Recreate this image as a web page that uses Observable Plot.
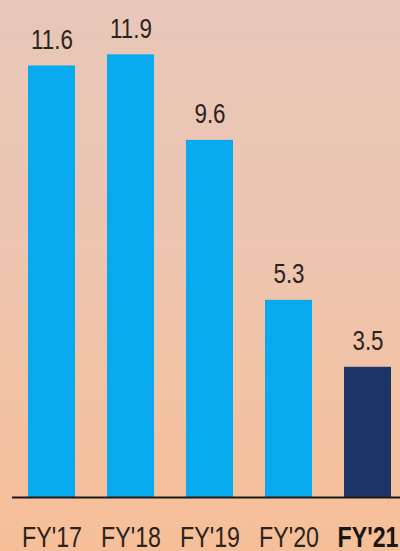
<!DOCTYPE html>
<html>
<head>
<meta charset="utf-8">
<script src="https://cdn.jsdelivr.net/npm/d3@7"></script>
<script src="https://cdn.jsdelivr.net/npm/@observablehq/plot@0.6"></script>
<style>
  html, body { margin: 0; padding: 0; width: 400px; height: 551px; overflow: hidden; }
  #chart svg { display: block; }
</style>
</head>
<body>
<div id="chart"></div>
<script>
const years = ["FY'17", "FY'18", "FY'19", "FY'20", "FY'21"];
const values = [11.6, 11.9, 9.6, 5.3, 3.5];
const highlighted = [false, false, false, false, true];

const data = years.map((year, i) => ({ year, value: values[i], hl: highlighted[i] }));
const font = "'Liberation Sans', Arial, Helvetica, sans-serif";

const chart = Plot.plot({
  width: 400,
  height: 551,
  marginTop: 0,
  marginBottom: 54,
  marginLeft: 26,
  marginRight: 8,
  style: {
    background: "linear-gradient(180deg, #e8c7b9 0%, #edc5b0 45%, #f3c2a2 75%, #f6bf98 100%)",
    fontFamily: font,
    overflow: "visible"
  },
  x: { domain: years, paddingInner: 0.41, paddingOuter: 0, axis: null },
  y: { domain: [0, 13.36], axis: null },
  marks: [
    Plot.barY(data, { x: "year", y: "value", fill: d => d.hl ? "#1c3468" : "#08aaef" }),
    Plot.ruleY([0], { stroke: "#1e1a18", strokeWidth: 2, insetLeft: -14, insetRight: -8 }),
    Plot.text(data, { x: "year", y: "value", text: d => d.value.toFixed(1), lineAnchor: "bottom", dy: -17, fontSize: 28, fill: "#2a2420" }),
    Plot.text(data.filter(d => !d.hl), { x: "year", text: "year", frameAnchor: "bottom", lineAnchor: "bottom", dy: 49, fontSize: 29, fill: "#2a2420" }),
    Plot.text(data.filter(d => d.hl), { x: "year", text: "year", frameAnchor: "bottom", lineAnchor: "bottom", dy: 49, fontSize: 29, fontWeight: "bold", fill: "#1a1614" })
  ]
});

// condense the lettering horizontally (the reference uses a narrow face)
const squeeze = 0.8;
d3.select(chart).selectAll("text").each(function () {
  const t = d3.select(this);
  const tr = t.attr("transform");
  if (tr && tr.includes("translate")) {
    t.attr("transform", tr + ` scale(${squeeze},1)`);
  } else {
    const x = +t.attr("x") || 0;
    t.attr("transform", `translate(${x},0) scale(${squeeze},1) translate(${-x},0)`);
  }
});

document.getElementById("chart").append(chart);
</script>
</body>
</html>
